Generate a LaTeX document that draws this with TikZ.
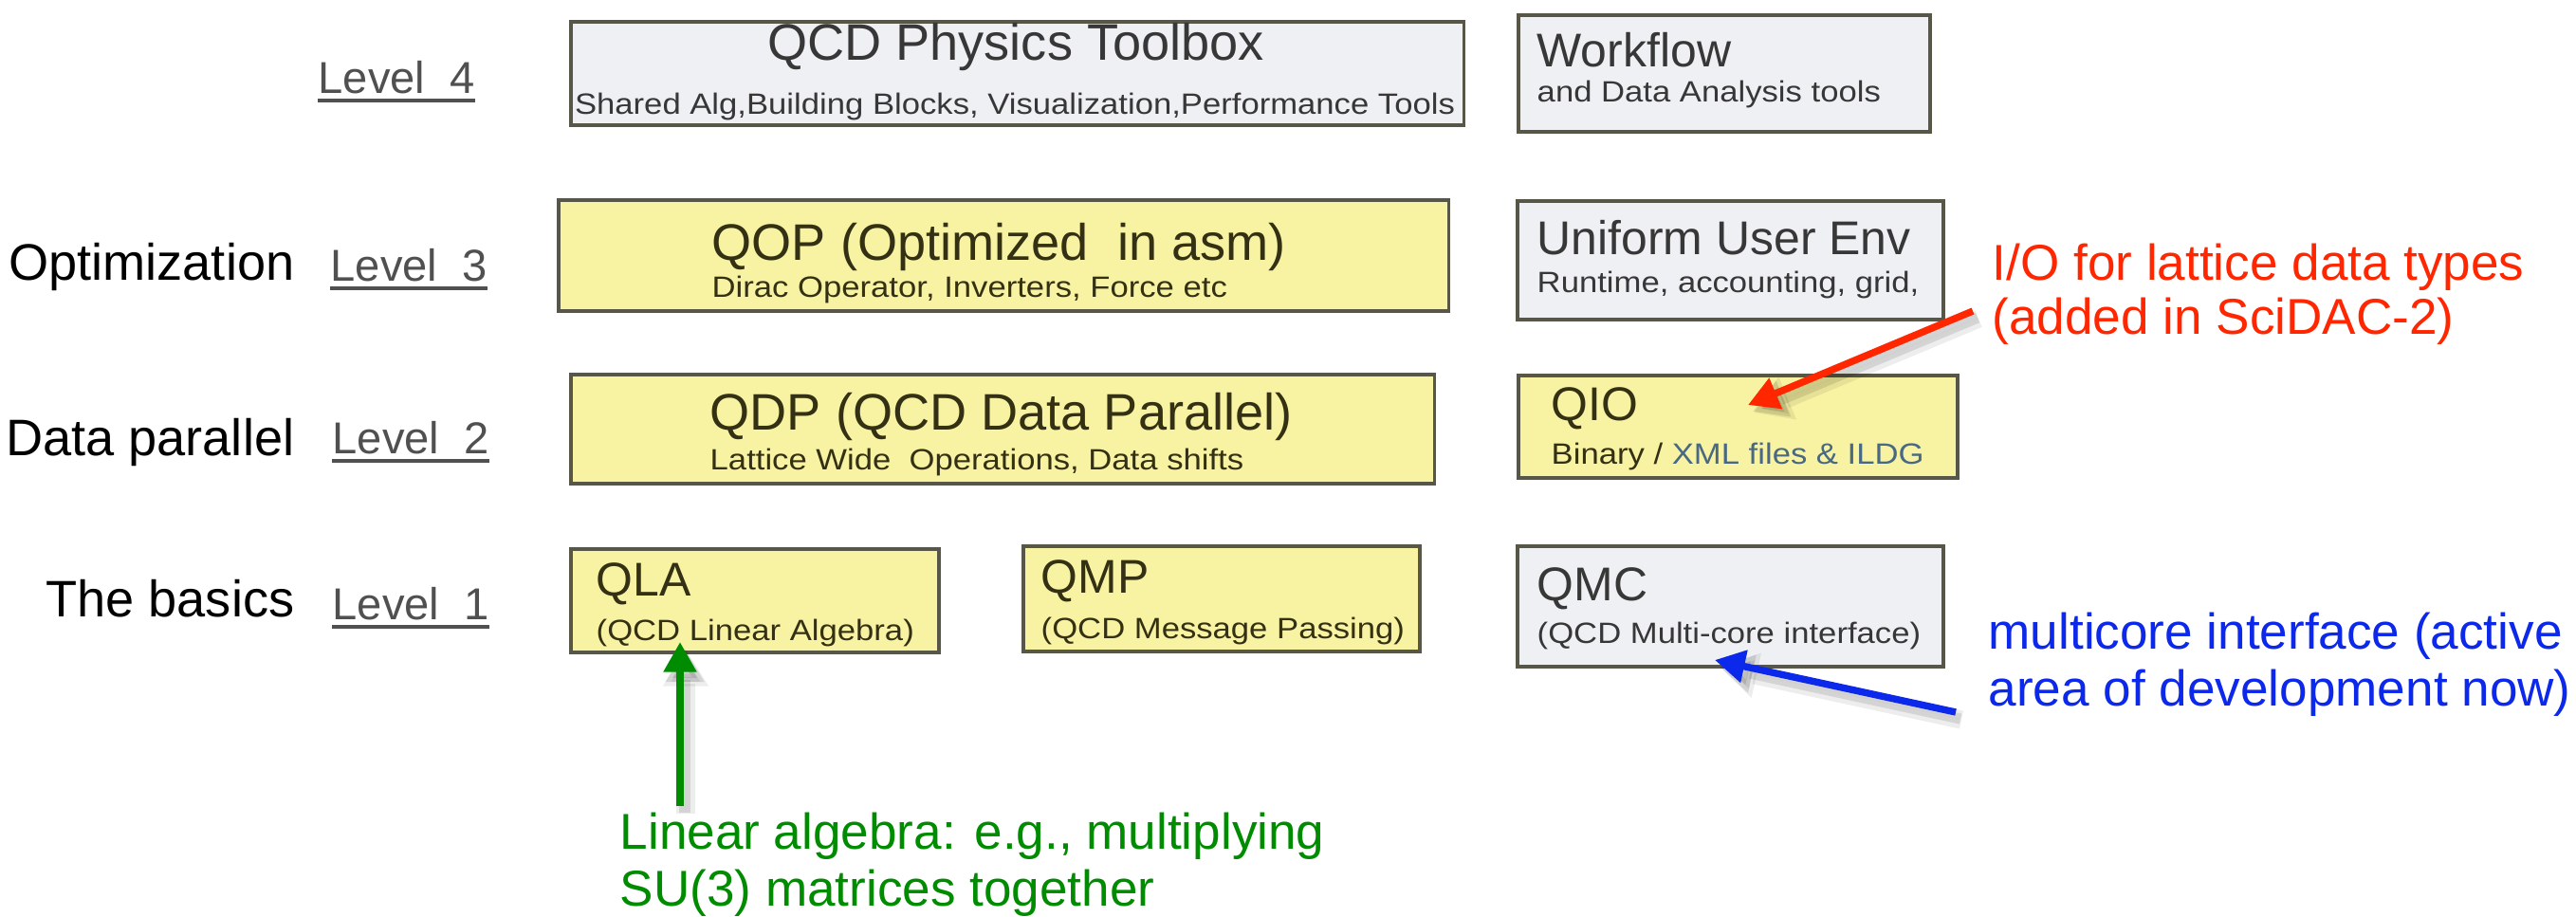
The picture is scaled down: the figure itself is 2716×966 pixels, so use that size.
\documentclass[tikz,border=0pt]{standalone}
\usepackage{fontspec}
\setmainfont{Liberation Sans}
\newfontfamily\subfont[FakeStretch=1.12]{Liberation Sans}
\usetikzlibrary{arrows.meta,calc}

\definecolor{boxyellow}{RGB}{248,243,162}
\definecolor{boxgray}{RGB}{238,240,243}
\definecolor{boxline}{RGB}{88,86,70}
\definecolor{inkolive}{RGB}{52,48,20}
\definecolor{inkgray}{RGB}{55,55,55}
\definecolor{inkblue}{RGB}{72,104,132}
\definecolor{lvlgray}{RGB}{80,80,80}
\definecolor{notered}{RGB}{255,38,0}
\definecolor{noteblue}{RGB}{12,40,235}
\definecolor{notegreen}{RGB}{0,140,0}

\begin{document}
\begin{tikzpicture}[x=0.01cm, y=-0.01cm,
  box/.style={draw=boxline, line width=1pt, inner sep=0pt, anchor=north west},
  ybox/.style={box, fill=boxyellow},
  gbox/.style={box, fill=boxgray},
  txt/.style={inner sep=0pt, anchor=base west},
  bigtitle/.style={txt, font=\fontsize{15.4}{18}\selectfont},
  title/.style={txt, font=\fontsize{14.2}{17}\selectfont},
  subline/.style={txt, font=\subfont\fontsize{8.8}{10.5}\selectfont},
  rowlabel/.style={inner sep=0pt, anchor=base east, font=\fontsize{15.4}{18}\selectfont},
  level/.style={txt, text=lvlgray, font=\fontsize{13.4}{16}\selectfont},
  levelrule/.style={draw=lvlgray, line width=0.9pt},
  note/.style={txt, font=\fontsize{15.1}{17}\selectfont},
  pointer/.style={line width=2.1pt, -{Triangle[length=9pt,width=9.5pt]}},
  % soft drop shadow under a pointer, built from two translucent layers
  pshadowwide/.style={line width=5.5pt, draw=black, fill=black, opacity=0.07,
    -{Triangle[length=11pt,width=13pt]},
    transform canvas={xshift=0.06cm,yshift=-0.08cm}},
  pshadow/.style={line width=3.2pt, draw=black, fill=black, opacity=0.10,
    -{Triangle[length=10pt,width=11pt]},
    transform canvas={xshift=0.05cm,yshift=-0.07cm}},
]
\fill[white] (0,0) rectangle (2716,966);
\useasboundingbox (0,0) rectangle (2716,966);

% ---- boxes ----
\node[gbox, minimum width=9.41cm, minimum height=1.09cm] (toolbox) at (600,21) {};
\node[gbox, minimum width=4.34cm, minimum height=1.23cm] (workflow) at (1599,14) {};
\node[ybox, minimum width=9.38cm, minimum height=1.17cm] (qop) at (587,209) {};
\node[gbox, minimum width=4.49cm, minimum height=1.25cm] (uue) at (1598,210) {};
\node[ybox, minimum width=9.10cm, minimum height=1.15cm] (qdp) at (600,393) {};
\node[ybox, minimum width=4.63cm, minimum height=1.08cm] (qio) at (1599,394) {};
\node[ybox, minimum width=3.88cm, minimum height=1.09cm] (qla) at (600,577) {};
\node[ybox, minimum width=4.18cm, minimum height=1.11cm] (qmp) at (1077,574) {};
\node[gbox, minimum width=4.49cm, minimum height=1.27cm] (qmc) at (1598,574) {};

% ---- box contents ----
\node[bigtitle, anchor=base, text=inkgray] (toolboxT) at (1071,63) {QCD Physics Toolbox};
\node[subline, anchor=base, text=inkgray] (toolboxS) at (1070,120) {Shared Alg,Building Blocks, Visualization,Performance Tools};

\node[title, text=inkgray] (workflowT) at (1620,70) {Workflow};
\node[subline, text=inkgray] (workflowS) at (1620,107) {and Data Analysis tools};

\node[bigtitle, text=inkolive] (qopT) at (750,274) {QOP (Optimized \ in asm)};
\node[subline, text=inkolive] (qopS) at (750,313) {Dirac Operator, Inverters, Force etc};

\node[title, text=inkgray] (uueT) at (1620,268) {Uniform User Env};
\node[subline, text=inkgray] (uueS) at (1620,308) {Runtime, accounting, grid,};

\node[bigtitle, text=inkolive] (qdpT) at (748,453) {QDP (QCD Data Parallel)};
\node[subline, text=inkolive] (qdpS) at (748,495) {Lattice Wide \ Operations, Data shifts};

\node[title, text=inkolive] (qioT) at (1635,443) {QIO};
\node[subline, text=inkolive] (qioS) at (1635,489) {Binary / \textcolor{inkblue}{XML files \& ILDG}};

\node[title, text=inkolive] (qlaT) at (628,628) {QLA};
\node[subline, text=inkolive] (qlaS) at (628,675) {(QCD Linear Algebra)};

\node[title, text=inkolive] (qmpT) at (1097,625) {QMP};
\node[subline, text=inkolive] (qmpS) at (1097,673) {(QCD Message Passing)};

\node[title, text=inkgray] (qmcT) at (1620,633) {QMC};
\node[subline, text=inkgray] (qmcS) at (1620,678) {(QCD Multi-core interface)};

% ---- row labels ----
\node[rowlabel] (rowopt) at (311,295) {Optimization};
\node[rowlabel] (rowdp) at (311,480) {Data parallel};
\node[rowlabel] (rowbas) at (311,650) {The basics};

\node[level] (lv4) at (335,98) {Level\_4};
\node[level] (lv3) at (348,296) {Level\_3};
\node[level] (lv2) at (350,478) {Level\_2};
\node[level] (lv1) at (350,653) {Level\_1};
\foreach \n in {lv4,lv3,lv2,lv1}
  \draw[levelrule] ($(\n.base west)+(0,8)$) -- ($(\n.base east)+(0,8)$);

% ---- annotations ----
\node[note, text=notered] (redA) at (2100,295) {I/O for lattice data types};
\node[note, text=notered] (redB) at (2100,352) {(added in SciDAC-2)};

\node[note, text=noteblue] (blueA) at (2096,684) {multicore interface (active};
\node[note, text=noteblue] (blueB) at (2096,744) {area of development now)};

\node[note, text=notegreen] (greenA) at (653,895) {Linear algebra: e.g., multiplying};
\node[note, text=notegreen] (greenB) at (653,955) {SU(3) matrices together};

% ---- pointers ----
\coordinate (redtail) at (2080,328);
\coordinate (redtip) at (1843,427);
\coordinate (bluetail) at (2062,751);
\coordinate (bluetip) at (1808,696);
\coordinate (greentail) at (717,850);
\coordinate (greentip) at (717,677);

\foreach \t/\h in {redtail/redtip, bluetail/bluetip, greentail/greentip} {
  \draw[pshadowwide] (\t) -- (\h);
  \draw[pshadow] (\t) -- (\h);
}

\draw[pointer, draw=notered, fill=notered] (redtail) -- (redtip);
\draw[pointer, draw=noteblue, fill=noteblue] (bluetail) -- (bluetip);
\draw[pointer, draw=notegreen, fill=notegreen] (greentail) -- (greentip);
\end{tikzpicture}
\end{document}
